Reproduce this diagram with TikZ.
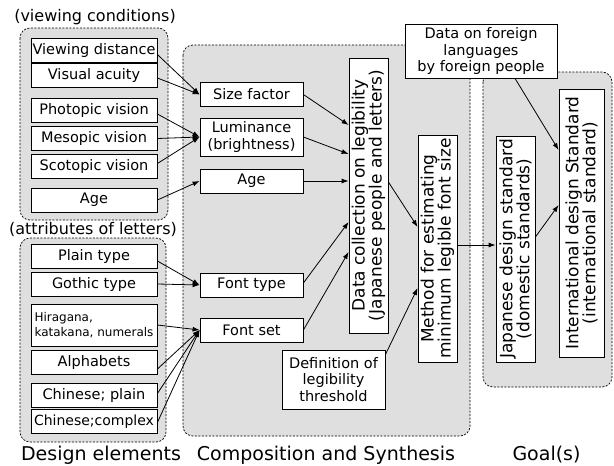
\documentclass[tikz,border=0pt]{standalone}
\usepackage{fontspec}
\setmainfont{DejaVu Sans}
\usetikzlibrary{arrows.meta}
\begin{document}
\begin{tikzpicture}[x=1pt,y=-1pt,line width=0.8pt,
     box/.style = {draw,fill=white,inner sep=1pt,align=center,
       minimum height=24pt,font=\fontsize{14.5}{16.5}\selectfont},
     vbox/.style = {draw,fill=white,inner sep=0pt},
     vtext/.style = {rotate=90,align=center,font=\fontsize{17}{17}\selectfont},
     grp/.style = {draw,fill=gray!25,rounded corners=10pt,
       dash pattern=on 2pt off 1.5pt,line width=0.7pt},
     grplbl/.style = {font=\fontsize{16}{18}\selectfont},
     bottomlbl/.style = {font=\fontsize{19}{21}\selectfont},
     arr/.style = {-{Latex[length=7pt,width=5pt]}}]
  \useasboundingbox (0,0) rectangle (614,466);
  % groups
  \draw[grp] (183,45) rectangle (470,436);
  \draw[grp] (483,72) rectangle (612,387);
  \draw[grp] (20,28) rectangle (168,220);
  \draw[grp] (20,238) rectangle (166,442);
  \node[grplbl] (vc) at (95,17) {(viewing conditions)};
  \node[grplbl] (al0) at (93,229) {(attributes of letters)};
  % design elements
  \node[box,minimum width=126pt] (vd) at (94,50.5) {Viewing distance};
  \node[box,minimum width=126pt] (va) at (94,75) {Visual acuity};
  \node[box,minimum width=126pt] (pv) at (94,110) {Photopic vision};
  \node[box,minimum width=126pt] (mv) at (94,138.5) {Mesopic vision};
  \node[box,minimum width=126pt] (sv) at (94,166.5) {Scotopic vision};
  \node[box,minimum width=126pt] (ag) at (94,200) {Age};
  \node[box,minimum width=126pt] (pt) at (94,256) {Plain type};
  \node[box,minimum width=126pt] (gt) at (94,284) {Gothic type};
  \node[box,minimum width=126pt,minimum height=42pt,align=left,
    font=\fontsize{12}{15}\selectfont] (hk) at (94,325)
    {Hiragana,\\katakana, numerals};
  \node[box,minimum width=126pt] (al) at (94,362) {Alphabets};
  \node[box,minimum width=126pt] (cp) at (94,395.5) {Chinese; plain};
  \node[box,minimum width=126pt,font=\fontsize{14}{16}\selectfont] (cc)
    at (94,421.5) {Chinese;complex};
  % composition and synthesis
  \node[box,minimum width=103pt] (sf) at (251.5,94.5) {Size factor};
  \node[box,minimum width=103pt,minimum height=38pt] (lu) at (251.5,137)
    {Luminance\\(brightness)};
  \node[box,minimum width=103pt] (ag2) at (251.5,181) {Age};
  \node[box,minimum width=103pt] (ft) at (251.5,285) {Font type};
  \node[box,minimum width=103pt] (fs) at (251.5,330) {Font set};
  \node[box,minimum width=103pt,minimum height=59pt] (dl) at (333.5,379.5)
    {Definition of\\legibility\\threshold};
  \node[vbox,minimum width=39pt,minimum height=275pt] (dc) at (368.5,195.5) {};
  \node[vtext] at (dc) {Data collection on legibility\\(Japanese people and letters)};
  \node[vbox,minimum width=39pt,minimum height=227pt] (me) at (437.5,248.5) {};
  \node[vtext] at (me) {Method for estimating\\minimum legible font size};
  % goals
  \node[vbox,minimum width=39pt,minimum height=226pt] (jp) at (515.5,249) {};
  \node[vtext] at (jp) {Japanese design standard\\(domestic standards)};
  \node[vbox,minimum width=45pt,minimum height=268pt] (in) at (581.5,223) {};
  \node[vtext] at (in) {International design Standard\\(international standard)};
  \node[box,minimum width=152pt,minimum height=54pt] (df) at (481,51)
    {Data on foreign\\languages\\by foreign people};
  % bottom labels
  \node[bottomlbl] (de) at (101,455) {Design elements};
  \node[bottomlbl] (cs) at (326,455) {Composition and Synthesis};
  \node[bottomlbl] (go) at (546.5,455) {Goal(s)};
  % connectors
  \draw[arr] ([yshift=-4pt]vd.east) -- (sf.west);
  \draw[arr] ([yshift=-3pt]va.east) -- (sf.west);
  \draw[arr] ([yshift=-4pt]pv.east) -- (lu.west);
  \draw[arr] (mv.east) -- (lu.west);
  \draw[arr] ([yshift=3pt]sv.east) -- (lu.west);
  \draw[arr] (ag.east) -- (ag2.west);
  \draw[arr] ([yshift=-5pt]pt.east) -- (ft.west);
  \draw[arr] (gt.east) -- (ft.west);
  \draw[arr] (hk.east) -- (fs.west);
  \draw[arr] ([yshift=-7pt]al.east) -- (fs.west);
  \draw[arr] ([yshift=2pt]cp.east) -- (fs.west);
  \draw[arr] ([yshift=-1pt]cc.east) -- (fs.west);
  \draw[arr] (sf.east) -- ([yshift=70.5pt]dc.west);
  \draw[arr] (lu.east) -- ([yshift=41.5pt]dc.west);
  \draw[arr] (ag2.east) -- (ag2.east -| dc.west);
  \draw[arr] ([yshift=2pt]ft.east) -- ([yshift=-26.5pt]dc.west);
  \draw[arr] (fs.east) -- ([yshift=-56.5pt]dc.west);
  \draw[arr] ([yshift=13.5pt]dc.east) -- ([yshift=21.5pt]me.west);
  \draw[arr] ([yshift=-5pt]dl.north east) -- ([yshift=-39.5pt]me.west);
  \draw[arr] ([yshift=3.5pt]me.east) -- ([yshift=3.5pt]me.east -| jp.west);
  \draw[arr] ([yshift=12pt]jp.east) -- ([yshift=18pt]in.west);
  \draw[arr] ([xshift=34pt]df.south) -- ([yshift=73pt]in.west);
\end{tikzpicture}
\end{document}
